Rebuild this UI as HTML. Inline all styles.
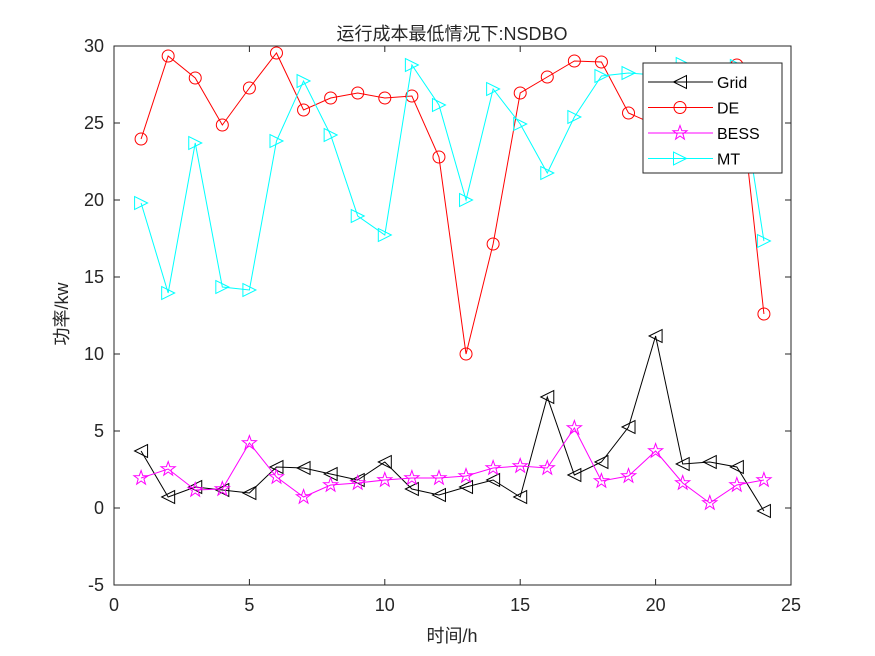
<!DOCTYPE html>
<html><head><meta charset="utf-8"><style>
html,body{margin:0;padding:0;background:#fff;}
svg{display:block;font-family:"Liberation Sans","Noto Sans CJK SC",sans-serif;}
</style></head><body>
<svg id="s" width="875" height="656" viewBox="0 0 875 656" xmlns="http://www.w3.org/2000/svg">
<rect width="875" height="656" fill="#fff"/>
<g id="plot"></g>
</svg>
<script>
const NS="http://www.w3.org/2000/svg";
const s=document.getElementById('plot');
function el(t,a,txt){const e=document.createElementNS(NS,t);for(const k in a)e.setAttribute(k,a[k]);if(txt!==undefined)e.textContent=txt;s.appendChild(e);return e;}
const X0=114,X1=791,Y0=46,Y1=585;
const xp=v=>X0+v*(X1-X0)/25, yp=v=>508-v*15.4;
el('rect',{x:X0,y:Y0,width:X1-X0,height:Y1-Y0,fill:'#fff',stroke:'#262626','stroke-width':1});
for(let v=0;v<=25;v+=5){const x=xp(v);el('line',{x1:x,y1:Y1,x2:x,y2:Y1-6,stroke:'#262626'});el('line',{x1:x,y1:Y0,x2:x,y2:Y0+6,stroke:'#262626'});el('text',{x:x,y:611,'font-size':18,'text-anchor':'middle',fill:'#262626'},v);}
for(let v=-5;v<=30;v+=5){const y=yp(v);el('line',{x1:X0,y1:y,x2:X0+6,y2:y,stroke:'#262626'});el('line',{x1:X1,y1:y,x2:X1-6,y2:y,stroke:'#262626'});el('text',{x:104,y:y+6,'font-size':18,'text-anchor':'end',fill:'#262626'},v);}
el('text',{x:452,y:40,'font-size':18,'text-anchor':'middle',fill:'#262626'},'运行成本最低情况下:NSDBO');
el('text',{x:452,y:642,'font-size':18,'text-anchor':'middle',fill:'#262626'},'时间/h');
el('text',{x:0,y:0,'font-size':18,'text-anchor':'middle',fill:'#262626',transform:'translate(68,314) rotate(-90)'},'功率/kw');
const DE=[139,56,78,125,88,53,110,98,93,98,96,157,354,244,93,77,61,62,113,125,118,100,65,314];
const MT=[203,293,143,287,290,141,81,135,216,235,65,105,200,89,124,173,117,76,73,75,64,70,66,241];
const GR=[451,497,487,490,493,467,468,474,480,462,489,495,487,480,497,397,475,462,427,336,464,462,467,511];
const BE=[478,469,490,489,443,477,497,485,483,480,478,478,476,468,466,468,428,481,476,451,483,503,485,480];
function tri(x,y,dir,c){const h=6.5;let p=dir<0?`${x-h},${y} ${x+h},${y-h} ${x+h},${y+h}`:`${x+h},${y} ${x-h},${y-h} ${x-h},${y+h}`;el('polygon',{points:p,fill:'none',stroke:c,'stroke-width':1});}
function star(x,y,c){let p=[];for(let i=0;i<10;i++){const r=i%2?3:7.5,a=-Math.PI/2+i*Math.PI/5;p.push((x+r*Math.cos(a)).toFixed(1)+','+(y+r*Math.sin(a)).toFixed(1));}el('polygon',{points:p.join(' '),fill:'none',stroke:c,'stroke-width':1});}
function circ(x,y,c){el('circle',{cx:x,cy:y,r:6,fill:'none',stroke:c,'stroke-width':1});}
function series(ys,c,m){el('polyline',{points:ys.map((y,i)=>xp(i+1)+','+y).join(' '),fill:'none',stroke:c,'stroke-width':1});ys.forEach((y,i)=>m(xp(i+1),y,c));}
series(GR,'#000',(x,y,c)=>tri(x,y,-1,c));
series(DE,'#ff0000',circ);
series(BE,'#ff00ff',star);
series(MT,'#00ffff',(x,y,c)=>tri(x,y,1,c));
el('rect',{x:643,y:63,width:139,height:110,fill:'#fff',stroke:'#262626','stroke-width':1});
const L=[['Grid','#000',(x,y,c)=>tri(x,y,-1,c)],['DE','#ff0000',circ],['BESS','#ff00ff',star],['MT','#00ffff',(x,y,c)=>tri(x,y,1,c)]];
L.forEach((l,i)=>{const y=82+i*25.5;el('line',{x1:648,y1:y,x2:713,y2:y,stroke:l[1]});l[2](680,y,l[1]);el('text',{x:717,y:y+6,'font-size':16,fill:'#000'},l[0]);});
</script>
</body></html>
